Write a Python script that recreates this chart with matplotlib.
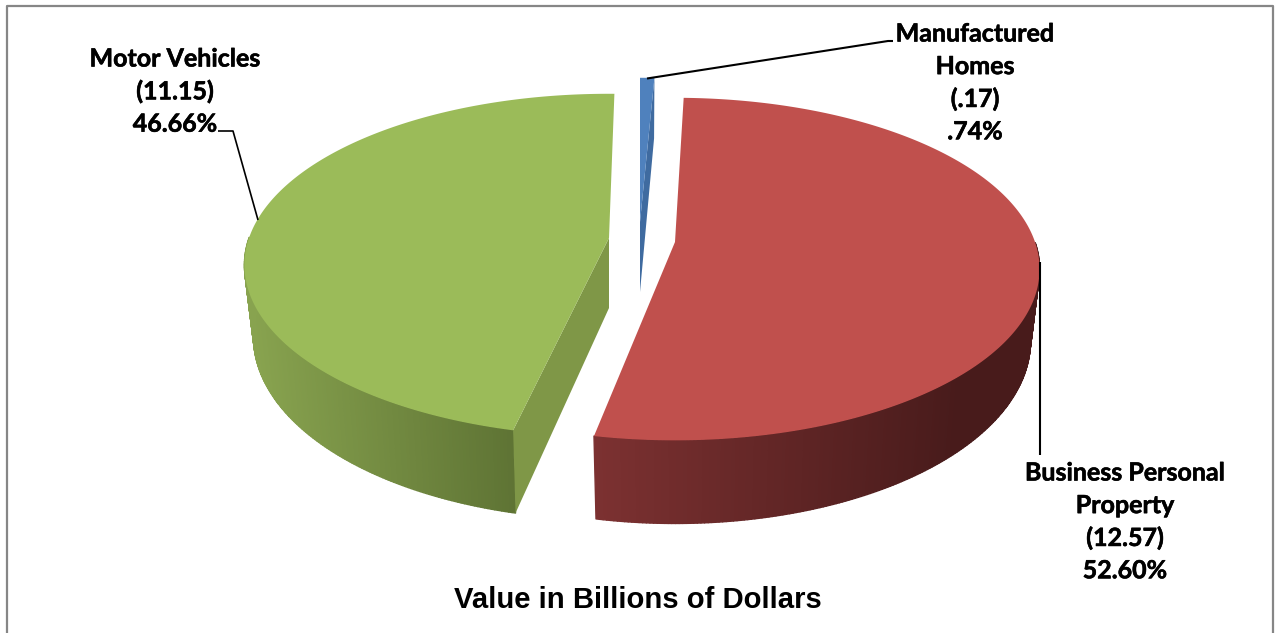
import numpy as np
import matplotlib
matplotlib.use("Agg")
import matplotlib.pyplot as plt
import matplotlib.patheffects as pe
from matplotlib.collections import PolyCollection
from matplotlib.colors import to_rgb

# --- data ---
categories = ["Manufactured\nHomes", "Business Personal\nProperty", "Motor Vehicles"]
value_labels = ["(.17)", "(12.57)", "(11.15)"]
percent_labels = [".74%", "52.60%", "46.66%"]
percents = [0.74, 52.60, 46.66]

# --- style and layout ---
top_colors = ["#4F81BD", "#C0504D", "#9BBB59"]
face_colors = ["#3F6BA0", "#7A3030", "#7F9747"]
side_left = ["#3F6BA0", "#7C3131", "#88A34F"]
side_right = ["#3F6BA0", "#481B1B", "#5E7334"]
side_xrange = [(640, 655), (594, 960), (250, 515)]
apex = [(640, 222), (675, 242), (609, 238)]
rotation = [0.0, -1.06, 1.0]
A, B, K, DEPTH, BASE = 360.0, 167.0, 0.158, 70.0, 0.975
label_x = [975, 1125, 175]
label_y = [34, 473, 59]
LINE = 32.6

fig = plt.figure(figsize=(12.75, 6.33), dpi=100, facecolor="white")
ax = fig.add_axes([0, 0, 1, 1])
ax.set_xlim(0, 1275)
ax.set_ylim(633, 0)
ax.axis("off")


def project(theta_deg, center, depth=0.0, xscale=1.0):
    t = np.radians(theta_deg)
    u, v = np.sin(t), -np.cos(t)
    w = 1.0 / (1.0 - K * v)
    return center[0] + xscale * A * u * w, center[1] + B * v * w + depth * w


def draw_wedge(i, start, end):
    c = apex[i]
    th = np.linspace(start, end, max(int((end - start) * 2), 2) + 1)
    xt, yt = project(th, c)
    xb, yb = project(th, c, DEPTH, BASE)
    # outer wall, only the part facing the viewer, shaded strip by strip
    polys, cols = [], []
    lo, hi = np.array(to_rgb(side_left[i])), np.array(to_rgb(side_right[i]))
    x0, x1 = side_xrange[i]
    for j in range(len(th) - 1):
        if np.cos(np.radians(th[j])) > 0.0:
            continue
        polys.append([(xt[j], yt[j]), (xt[j + 1], yt[j + 1]), (xb[j + 1], yb[j + 1]), (xb[j], yb[j])])
        f = np.clip(((xt[j] + xt[j + 1]) / 2 - x0) / (x1 - x0), 0, 1)
        cols.append(tuple(lo + (hi - lo) * f))
    if polys:
        ax.add_collection(PolyCollection(polys, facecolors=cols, edgecolors=cols, linewidths=1.0, zorder=2))
    # cut face that looks toward the viewer
    cut = {0: end, 2: start}.get(i)
    if cut is not None:
        xr, yr = project(cut, c)
        xrb, yrb = project(cut, c, DEPTH, BASE)
        ax.fill([c[0], c[0], xrb, xr], [c[1], c[1] + DEPTH, yrb, yr],
                color=face_colors[i], lw=0, zorder=3)
    # top surface
    ax.fill(np.r_[c[0], xt], np.r_[c[1], yt], color=top_colors[i], lw=0, zorder=4)


cum = 0.0
for i, p in enumerate(percents):
    sweep = p / sum(percents) * 360.0
    if i == 0:
        sweep = 2.66  # the thin slice as drawn in the source picture
    draw_wedge(i, cum + rotation[i], cum + sweep + rotation[i])
    cum += sweep

# leader lines
ax.plot([647, 888, 893], [78.5, 41, 41], color="black", lw=1.5, zorder=6, solid_capstyle="butt")
ax.plot([218, 233, 258], [131, 131, 220], color="black", lw=1.2, zorder=6, solid_capstyle="butt")
ax.plot([1040, 1040], [262, 455], color="black", lw=1.5, zorder=6, solid_capstyle="butt")

# labels
for i in range(3):
    lines = categories[i].split("\n") + [value_labels[i], percent_labels[i]]
    for n, s in enumerate(lines):
        ax.text(label_x[i], label_y[i] + n * LINE, s, ha="center", va="center",
                family="Lato", weight="bold", fontsize=18, color="black", zorder=7,
                path_effects=[pe.withStroke(linewidth=0.4, foreground="black")])

ax.text(638, 599.5, "Value in Billions of Dollars", ha="center", va="center",
        family="Liberation Sans", weight="bold", fontsize=21.1, color="black")

# chart frame (the bottom edge is cut off in the source)
ax.plot([6.5, 6.5, 1272.5, 1272.5], [633, 5.5, 5.5, 633], color="#868686", lw=1.6, zorder=1)

fig.savefig("out.png", dpi=100)
